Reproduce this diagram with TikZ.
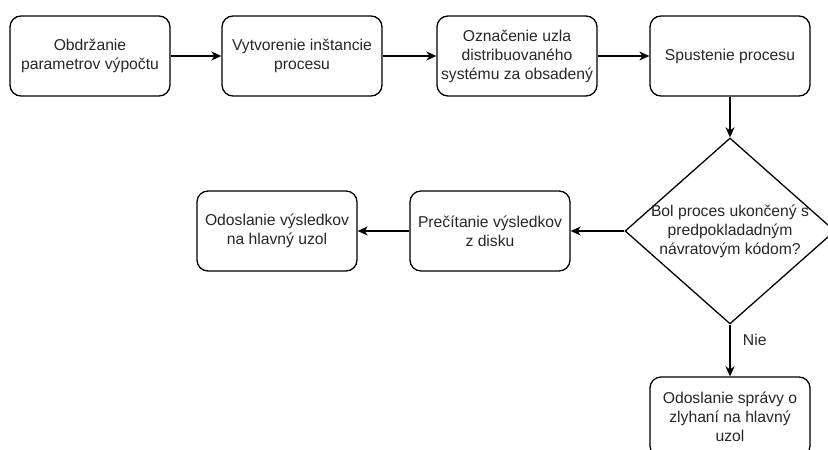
\documentclass[tikz,border=0pt]{standalone}
\usepackage{fontspec}
\setmainfont{Liberation Sans}
\usetikzlibrary{shapes.geometric,arrows.meta}

\begin{document}
\begin{tikzpicture}[x=1pt,y=-1pt,
  every node/.style={font=\fontsize{15.7}{19}\selectfont, text=black!85},
  stepbox/.style={draw=black, line width=1.3pt, rounded corners=11pt,
    minimum width=160pt, minimum height=80pt, inner sep=2pt, align=center},
  decision/.style={draw=black, line width=1.3pt, shape=diamond,
    minimum width=210pt, minimum height=186pt, inner sep=0pt},
  flow/.style={draw=black, line width=1.3pt,
    -{Stealth[length=10pt,width=9pt,inset=3pt]}}
]
\useasboundingbox (0,0) rectangle (828,450);

% top row
\node[stepbox] (b1) at (90,56)  {Obdržanie\\parametrov výpočtu};
\node[stepbox] (b2) at (302,56) {Vytvorenie inštancie\\procesu};
\node[stepbox] (b3) at (517,56) {Označenie uzla\\distribuovaného\\systému za obsadený};
\node[stepbox] (b4) at (730,56) {Spustenie procesu};

% decision
\node[decision] (dia) at (730,231) {};
\node[align=center] (diatext) at (dia.center) {Bol proces ukončený s\\predpokladadným\\návratovým kódom?};

% middle row
\node[stepbox] (p) at (490,231) {Prečítanie výsledkov\\z disku};
\node[stepbox] (o) at (277,231) {Odoslanie výsledkov\\na hlavný uzol};

% failure branch
\node[stepbox] (f) at (730,417) {Odoslanie správy o\\zlyhaní na hlavný\\uzol};

\draw[flow] (b1) -- (b2);
\draw[flow] (b2) -- (b3);
\draw[flow] (b3) -- (b4);
\draw[flow] (b4) -- (dia.north);
\draw[flow] (dia.west) -- (p.east);
\draw[flow] (p) -- (o);
\draw[flow] (dia.south) -- node[pos=0.3, anchor=west, xshift=9pt] (nie) {Nie} (f.north);
\end{tikzpicture}
\end{document}
